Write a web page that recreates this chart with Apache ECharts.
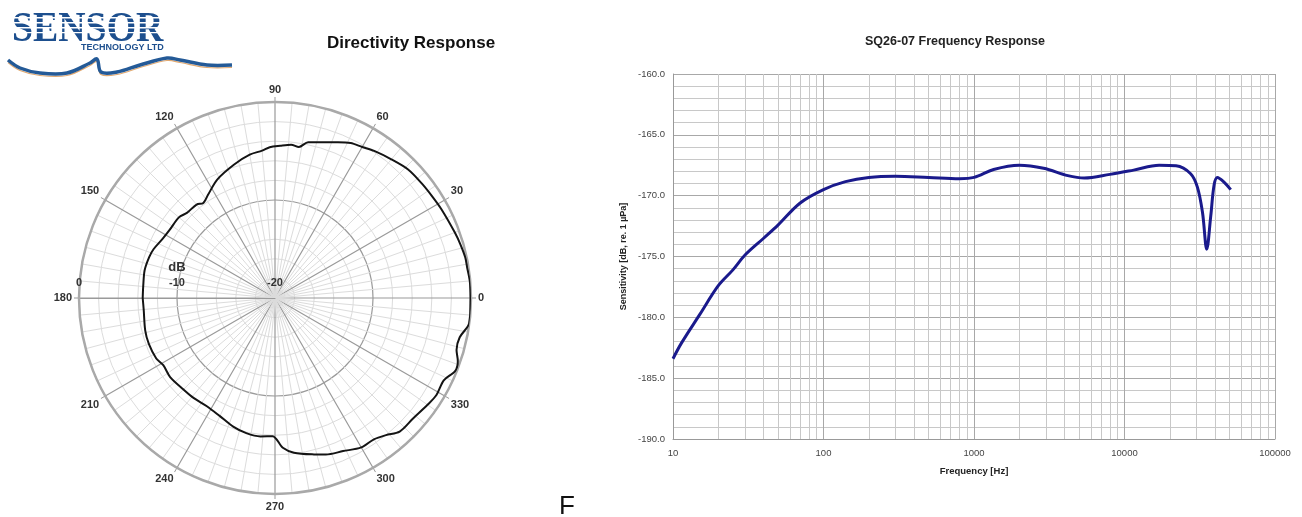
<!DOCTYPE html>
<html>
<head>
<meta charset="utf-8">
<title>SQ26-07 Directivity / Frequency Response</title>
<script src="https://cdn.jsdelivr.net/npm/echarts@6/dist/echarts.min.js"></script>
<style>
html, body { margin: 0; padding: 0; background: #fff; }
#main { width: 1302px; height: 517px; }
</style>
</head>
<body>
<div id="main"></div>
<script>
// directivity response: angle (deg) and level (dB)
var dirAngle = [0, 5, 9, 12, 16, 20, 28, 33, 38, 44, 50, 56, 60, 64, 68, 72, 78, 81, 84, 88,
    92, 95, 100, 107, 116, 123, 127, 130, 136, 140, 147, 152, 158, 162, 168, 175,
    180, 185, 194, 200, 207, 211, 217, 225, 231, 238, 245, 252, 258, 264, 269,
    273, 277, 284, 288, 294, 300, 305, 309, 313, 319, 325, 329, 334, 338, 341, 344, 348, 352, 355];
var dirLevel = [-0.05, -0.05, -0.15, -0.15, -0.3, -0.47, -0.75, -0.9, -1.0, -1.12, -1.53, -1.9, -2.2, -2.4, -2.85, -3.3, -3.75, -4.4, -4.27, -4.45,
    -4.6, -4.9, -5.15, -5.75, -6.55, -7.45, -7.85, -7.55, -7.5, -7.2, -7.2, -7.05, -6.65, -6.5, -6.4, -6.5,
    -6.5, -6.55, -6.35, -6.3, -6.4, -6.7, -6.6, -6.8, -6.85, -6.95, -6.7, -6.2, -5.9, -5.8, -5.9,
    -4.7, -4.1, -3.55, -3.2, -2.9, -2.4, -2.4, -2.0, -1.35, -1.3, -1.0, -0.78, -0.84, -0.16, -0.27, -0.73, -0.73, -0.06, -0.01];

// frequency response
var freqHz = [10, 11.4, 15, 20, 25, 30, 40, 50, 70, 100, 140, 200, 300, 500, 800, 1000, 1350, 2000, 2900, 4200,
    5400, 8000, 11500, 17000, 22000, 27500, 30500, 33000, 35200, 37400, 39400, 41400, 46000, 50800];
var sensDb = [-183.4, -182.1, -179.8, -177.4, -176.1, -174.9, -173.5, -172.4, -170.6, -169.5, -168.85, -168.5, -168.4, -168.5, -168.6, -168.5, -167.85, -167.5, -167.75, -168.35,
    -168.55, -168.25, -167.9, -167.5, -167.55, -168.2, -169.3, -171.4, -174.4, -171.7, -169.1, -168.5, -168.9, -169.5];
var freqMinor = [20, 30, 40, 50, 60, 70, 80, 90, 200, 300, 400, 500, 600, 700, 800, 900,
    2000, 3000, 4000, 5000, 6000, 7000, 8000, 9000, 20000, 30000, 40000, 50000, 60000, 70000, 80000, 90000];

var font = '"Liberation Sans", Arial, sans-serif';

// polar radius axis is drawn along the start angle, so the angle axis starts at 180
var dirData = [];
for (var i = 0; i < dirAngle.length; i++) {
    var a = dirAngle[i] < 180 ? dirAngle[i] + 360 : dirAngle[i];
    dirData.push([dirLevel[i], a]);
}
dirData.sort(function (p, q) { return p[1] - q[1]; });
dirData.push([dirData[0][0], dirData[0][1] + 360]);

var respData = freqHz.map(function (f, i) { return [f, sensDb[i]]; });

var chart = echarts.init(document.getElementById('main'), null, { renderer: 'canvas' });

var option = {
    backgroundColor: '#fff',
    animation: false,
    textStyle: { fontFamily: font },
    title: [{
        text: 'Directivity Response',
        left: 406, top: 30, textAlign: 'center',
        textStyle: { fontSize: 17, fontWeight: 'bold', color: '#111', fontFamily: font }
    }, {
        text: 'SQ26-07 Frequency Response',
        left: 950, top: 30, textAlign: 'center',
        textStyle: { fontSize: 12.5, fontWeight: 'bold', color: '#222', fontFamily: font }
    }],
    polar: { center: [275, 298], radius: 196 },
    angleAxis: {
        type: 'value', min: 180, max: 540, interval: 30,
        startAngle: 180, clockwise: false,
        axisLine: { lineStyle: { color: '#a9a9a9', width: 2.5 } },
        axisTick: { show: true, length: 5, lineStyle: { color: '#999' } },
        axisLabel: {
            margin: 7, color: '#333', fontSize: 11, fontWeight: 'bold',
            formatter: function (v) { return String(v % 360); }
        },
        splitLine: { lineStyle: { color: '#9a9a9a', width: 1.2 } },
        minorTick: { show: false, splitNumber: 6 },
        minorSplitLine: { show: true, lineStyle: { color: '#dcdcdc', width: 1 } }
    },
    radiusAxis: {
        type: 'value', min: -20, max: 0, interval: 10,
        name: 'dB', nameLocation: 'middle', nameGap: 24, nameRotate: 0,
        nameTextStyle: { fontSize: 13, color: '#333', fontWeight: 'bold' },
        axisLine: { show: true, lineStyle: { color: '#9a9a9a', width: 1.2 } },
        axisTick: { show: false },
        axisLabel: { color: '#333', fontSize: 11, fontWeight: 'bold', margin: -21 },
        splitLine: { lineStyle: { color: '#9a9a9a', width: 1.2 } },
        minorTick: { show: false, splitNumber: 5 },
        minorSplitLine: { show: true, lineStyle: { color: '#dcdcdc', width: 1 } }
    },
    grid: { left: 673, right: 27, top: 74, bottom: 78, show: false },
    xAxis: {
        type: 'log', logBase: 10, min: 10, max: 100000,
        name: 'Frequency [Hz]', nameLocation: 'middle', nameGap: 27,
        nameTextStyle: { fontSize: 9.5, fontWeight: 'bold', color: '#222' },
        axisLine: { lineStyle: { color: '#999' } },
        axisTick: { show: false },
        axisLabel: { fontSize: 9.5, color: '#444', margin: 9, formatter: function (v) { return String(v); } },
        splitLine: { show: true, lineStyle: { color: '#a8a8a8' } }
    },
    yAxis: {
        type: 'value', min: -190, max: -160, interval: 5,
        name: 'Sensitivity [dB, re. 1 \u00b5Pa]', nameLocation: 'middle', nameGap: 45,
        nameTextStyle: { fontSize: 9, fontWeight: 'bold', color: '#222' },
        axisLine: { show: true, lineStyle: { color: '#999' } },
        axisTick: { show: false },
        axisLabel: { fontSize: 9.5, color: '#444', margin: 8, formatter: function (v) { return v.toFixed(1); } },
        splitLine: { show: true, lineStyle: { color: '#a8a8a8' } },
        minorTick: { show: false, splitNumber: 5 },
        minorSplitLine: { show: true, lineStyle: { color: '#c8c8c8' } }
    },
    series: [{
        name: 'directivity',
        type: 'line',
        coordinateSystem: 'polar',
        data: dirData,
        smooth: 0.3,
        showSymbol: false,
        lineStyle: { color: '#141414', width: 2 },
        z: 5
    }, {
        name: 'minor grid',
        type: 'line',
        data: [],
        silent: true,
        z: 1,
        markLine: {
            silent: true, symbol: 'none', animation: false,
            label: { show: false },
            lineStyle: { color: '#c8c8c8', type: 'solid', width: 1 },
            data: freqMinor.map(function (f) { return { xAxis: f }; })
        }
    }, {
        name: 'SQ26-07',
        type: 'line',
        data: respData,
        smooth: 0.35,
        showSymbol: false,
        lineStyle: { color: '#1a1a8c', width: 3 },
        z: 5
    }],
    graphic: [
        {
            type: 'text', x: 12, y: 8, scaleX: 0.88,
            style: { text: 'SENSOR', font: 'bold 43px "Liberation Serif", serif', fill: '#1d4f8e' }
        },
        { type: 'rect', shape: { x: 10, y: 17, width: 156, height: 1.5 }, style: { fill: '#fff' } },
        { type: 'rect', shape: { x: 10, y: 22, width: 156, height: 1.5 }, style: { fill: '#fff' } },
        { type: 'rect', shape: { x: 10, y: 27, width: 156, height: 1.5 }, style: { fill: '#fff' } },
        { type: 'rect', shape: { x: 10, y: 32, width: 156, height: 1.2 }, style: { fill: '#fff' } },
        {
            type: 'text', x: 81, y: 48,
            style: { text: 'TECHNOLOGY LTD', font: 'bold 9px ' + font, fill: '#1d4f8e', verticalAlign: 'middle' }
        },
        {
            type: 'polyline',
            shape: { points: [[8, 60], [20, 68], [40, 73], [67, 73], [90, 63], [97, 59], [101, 72], [117, 72], [140, 65], [167, 58], [180, 60], [207, 65], [232, 65]], smooth: 0.35 },
            style: { stroke: '#e0a870', lineWidth: 1.2, fill: null },
            y: 2.5
        },
        {
            type: 'polyline',
            shape: { points: [[8, 60], [20, 68], [40, 73], [67, 73], [90, 63], [97, 59], [101, 72], [117, 72], [140, 65], [167, 58], [180, 60], [207, 65], [232, 65]], smooth: 0.35 },
            style: { stroke: '#245a97', lineWidth: 3.5, fill: null }
        },
        {
            type: 'text', x: 567, y: 507,
            style: { text: 'F', font: '26px ' + font, fill: '#111', align: 'center', verticalAlign: 'middle' }
        }
    ]
};

chart.setOption(option);
</script>
</body>
</html>
